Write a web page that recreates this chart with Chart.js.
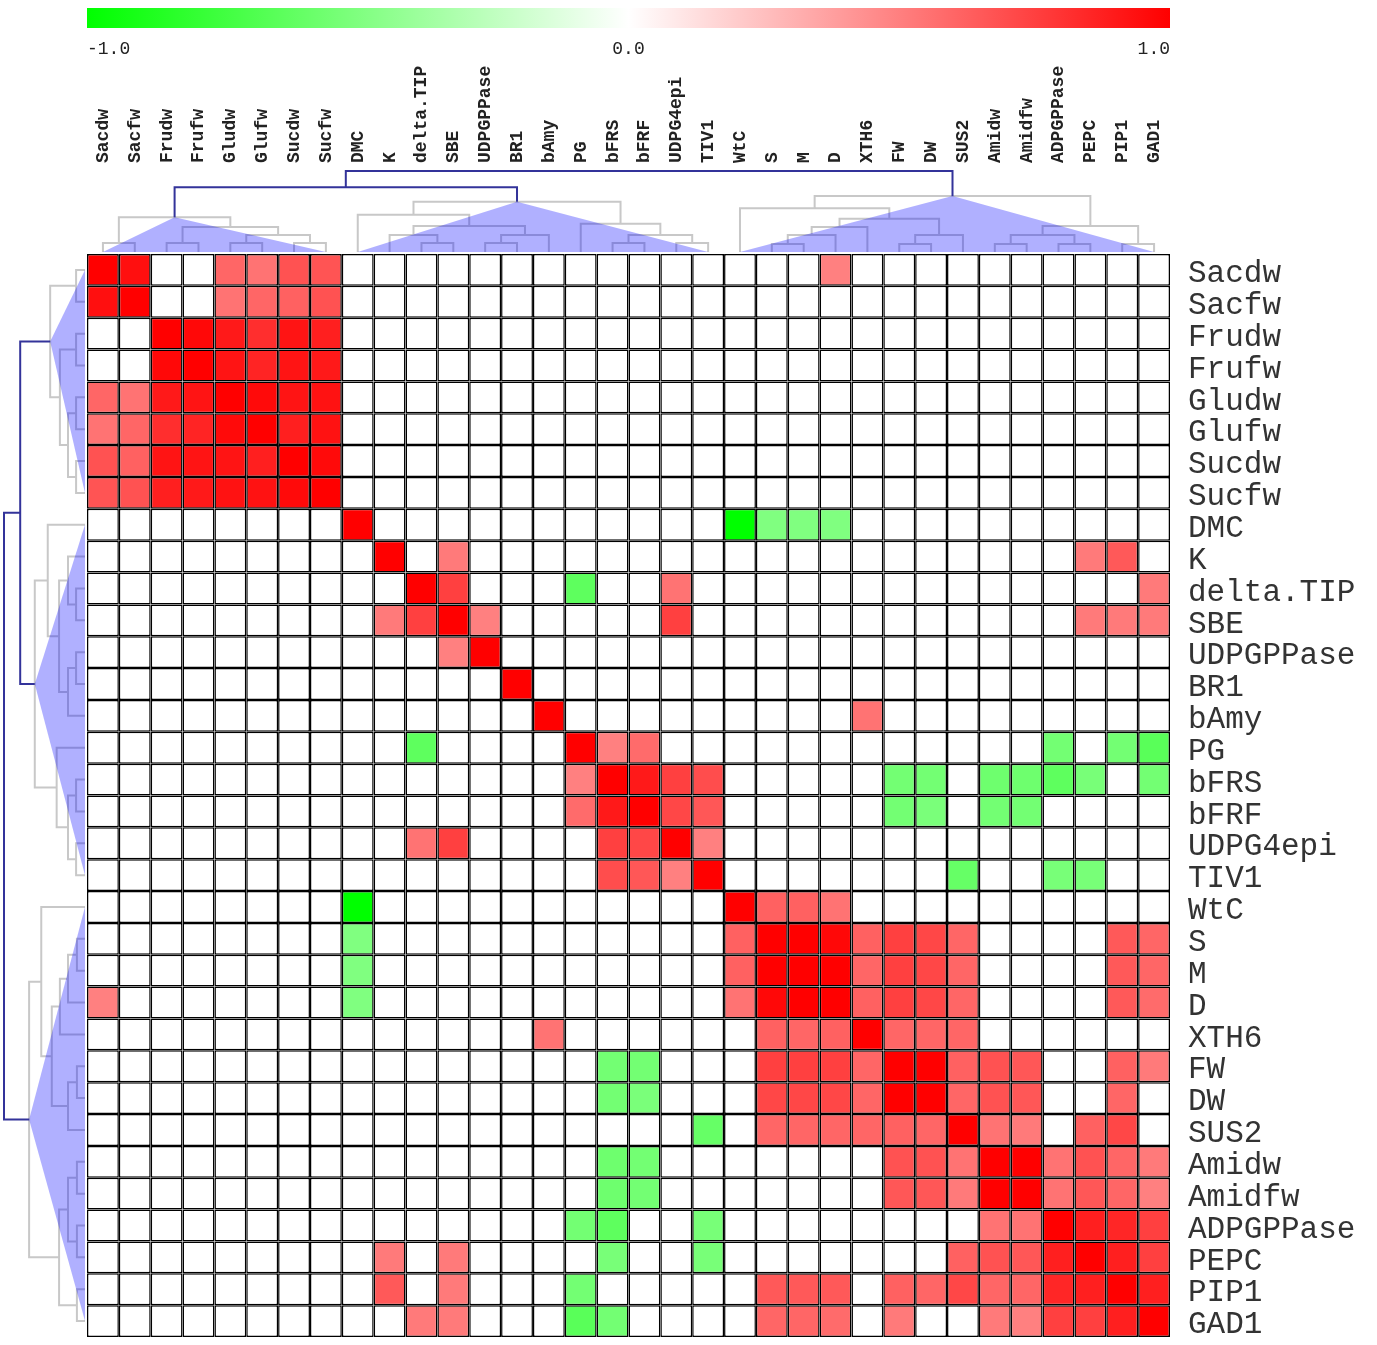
<!DOCTYPE html>
<html>
<head>
<meta charset="utf-8">
<script src="https://cdn.jsdelivr.net/npm/chart.js@4.4.1/dist/chart.umd.min.js"></script>
<style>
  html, body { margin: 0; padding: 0; background: #fff; }
  #wrap { width: 1377px; height: 1345px; }
</style>
</head>
<body>
<div id="wrap"><canvas id="heat" width="1377" height="1345"></canvas></div>
<script>
const variables = ['Sacdw', 'Sacfw', 'Frudw', 'Frufw', 'Gludw', 'Glufw', 'Sucdw', 'Sucfw',
    'DMC', 'K', 'delta.TIP', 'SBE', 'UDPGPPase', 'BR1', 'bAmy', 'PG', 'bFRS', 'bFRF', 'UDPG4epi', 'TIV1',
    'WtC', 'S', 'M', 'D', 'XTH6', 'FW', 'DW', 'SUS2', 'Amidw', 'Amidfw', 'ADPGPPase', 'PEPC', 'PIP1', 'GAD1'];

// correlation matrix, rows/cols in the order above (blank cells = 0)
const corr = [
    [1, .94, 0, 0, .6, .55, .68, .67,   0, 0, 0, 0, 0, 0, 0, 0, 0, 0, 0, 0,   0, 0, 0, .5, 0, 0, 0, 0, 0, 0, 0, 0, 0, 0],
    [.94, 1, 0, 0, .55, .6, .62, .68,   0, 0, 0, 0, 0, 0, 0, 0, 0, 0, 0, 0,   0, 0, 0, 0, 0, 0, 0, 0, 0, 0, 0, 0, 0, 0],
    [0, 0, 1, .97, .9, .82, .92, .88,   0, 0, 0, 0, 0, 0, 0, 0, 0, 0, 0, 0,   0, 0, 0, 0, 0, 0, 0, 0, 0, 0, 0, 0, 0, 0],
    [0, 0, .97, 1, .92, .86, .92, .9,   0, 0, 0, 0, 0, 0, 0, 0, 0, 0, 0, 0,   0, 0, 0, 0, 0, 0, 0, 0, 0, 0, 0, 0, 0, 0],
    [.6, .55, .9, .92, 1, .96, .92, .93,   0, 0, 0, 0, 0, 0, 0, 0, 0, 0, 0, 0,   0, 0, 0, 0, 0, 0, 0, 0, 0, 0, 0, 0, 0, 0],
    [.55, .6, .82, .86, .96, 1, .88, .93,   0, 0, 0, 0, 0, 0, 0, 0, 0, 0, 0, 0,   0, 0, 0, 0, 0, 0, 0, 0, 0, 0, 0, 0, 0, 0],
    [.68, .62, .92, .92, .92, .88, 1, .96,   0, 0, 0, 0, 0, 0, 0, 0, 0, 0, 0, 0,   0, 0, 0, 0, 0, 0, 0, 0, 0, 0, 0, 0, 0, 0],
    [.67, .68, .88, .9, .93, .93, .96, 1,   0, 0, 0, 0, 0, 0, 0, 0, 0, 0, 0, 0,   0, 0, 0, 0, 0, 0, 0, 0, 0, 0, 0, 0, 0, 0],
    [0, 0, 0, 0, 0, 0, 0, 0,   1, 0, 0, 0, 0, 0, 0, 0, 0, 0, 0, 0,   -1, -.5, -.5, -.5, 0, 0, 0, 0, 0, 0, 0, 0, 0, 0],
    [0, 0, 0, 0, 0, 0, 0, 0,   0, 1, 0, .52, 0, 0, 0, 0, 0, 0, 0, 0,   0, 0, 0, 0, 0, 0, 0, 0, 0, 0, 0, .52, .65, 0],
    [0, 0, 0, 0, 0, 0, 0, 0,   0, 0, 1, .75, 0, 0, 0, -.63, 0, 0, .55, 0,   0, 0, 0, 0, 0, 0, 0, 0, 0, 0, 0, 0, 0, .52],
    [0, 0, 0, 0, 0, 0, 0, 0,   0, .52, .75, 1, .5, 0, 0, 0, 0, 0, .75, 0,   0, 0, 0, 0, 0, 0, 0, 0, 0, 0, 0, .52, .52, .52],
    [0, 0, 0, 0, 0, 0, 0, 0,   0, 0, 0, .5, 1, 0, 0, 0, 0, 0, 0, 0,   0, 0, 0, 0, 0, 0, 0, 0, 0, 0, 0, 0, 0, 0],
    [0, 0, 0, 0, 0, 0, 0, 0,   0, 0, 0, 0, 0, 1, 0, 0, 0, 0, 0, 0,   0, 0, 0, 0, 0, 0, 0, 0, 0, 0, 0, 0, 0, 0],
    [0, 0, 0, 0, 0, 0, 0, 0,   0, 0, 0, 0, 0, 0, 1, 0, 0, 0, 0, 0,   0, 0, 0, 0, .55, 0, 0, 0, 0, 0, 0, 0, 0, 0],
    [0, 0, 0, 0, 0, 0, 0, 0,   0, 0, -.63, 0, 0, 0, 0, 1, .5, .58, 0, 0,   0, 0, 0, 0, 0, 0, 0, 0, 0, 0, -.55, 0, -.55, -.65],
    [0, 0, 0, 0, 0, 0, 0, 0,   0, 0, 0, 0, 0, 0, 0, .5, 1, .9, .75, .7,   0, 0, 0, 0, 0, -.55, -.55, 0, -.57, -.57, -.63, -.53, 0, -.55],
    [0, 0, 0, 0, 0, 0, 0, 0,   0, 0, 0, 0, 0, 0, 0, .58, .9, 1, .72, .66,   0, 0, 0, 0, 0, -.55, -.52, 0, -.55, -.55, 0, 0, 0, 0],
    [0, 0, 0, 0, 0, 0, 0, 0,   0, 0, .55, .75, 0, 0, 0, 0, .75, .72, 1, .5,   0, 0, 0, 0, 0, 0, 0, 0, 0, 0, 0, 0, 0, 0],
    [0, 0, 0, 0, 0, 0, 0, 0,   0, 0, 0, 0, 0, 0, 0, 0, .7, .66, .5, 1,   0, 0, 0, 0, 0, 0, 0, -.6, 0, 0, -.53, -.53, 0, 0],
    [0, 0, 0, 0, 0, 0, 0, 0,   -1, 0, 0, 0, 0, 0, 0, 0, 0, 0, 0, 0,   1, .62, .62, .55, 0, 0, 0, 0, 0, 0, 0, 0, 0, 0],
    [0, 0, 0, 0, 0, 0, 0, 0,   -.5, 0, 0, 0, 0, 0, 0, 0, 0, 0, 0, 0,   .62, 1, 1, .97, .62, .75, .72, .6, 0, 0, 0, 0, .65, .6],
    [0, 0, 0, 0, 0, 0, 0, 0,   -.5, 0, 0, 0, 0, 0, 0, 0, 0, 0, 0, 0,   .62, 1, 1, 1, .6, .75, .72, .6, 0, 0, 0, 0, .65, .6],
    [.5, 0, 0, 0, 0, 0, 0, 0,   -.5, 0, 0, 0, 0, 0, 0, 0, 0, 0, 0, 0,   .55, .97, 1, 1, .62, .75, .72, .6, 0, 0, 0, 0, .65, .58],
    [0, 0, 0, 0, 0, 0, 0, 0,   0, 0, 0, 0, 0, 0, .55, 0, 0, 0, 0, 0,   0, .62, .6, .62, 1, .6, .6, .6, 0, 0, 0, 0, 0, 0],
    [0, 0, 0, 0, 0, 0, 0, 0,   0, 0, 0, 0, 0, 0, 0, 0, -.55, -.55, 0, 0,   0, .75, .75, .75, .6, 1, 1, .62, .68, .66, 0, 0, .62, .52],
    [0, 0, 0, 0, 0, 0, 0, 0,   0, 0, 0, 0, 0, 0, 0, 0, -.55, -.52, 0, 0,   0, .72, .72, .72, .6, 1, 1, .6, .68, .66, 0, 0, .6, 0],
    [0, 0, 0, 0, 0, 0, 0, 0,   0, 0, 0, 0, 0, 0, 0, 0, 0, 0, 0, -.6,   0, .6, .6, .6, .6, .62, .6, 1, .55, .52, 0, .62, .72, 0],
    [0, 0, 0, 0, 0, 0, 0, 0,   0, 0, 0, 0, 0, 0, 0, 0, -.57, -.55, 0, 0,   0, 0, 0, 0, 0, .68, .68, .55, 1, 1, .55, .68, .6, .52],
    [0, 0, 0, 0, 0, 0, 0, 0,   0, 0, 0, 0, 0, 0, 0, 0, -.57, -.55, 0, 0,   0, 0, 0, 0, 0, .66, .66, .52, 1, 1, .55, .66, .6, .5],
    [0, 0, 0, 0, 0, 0, 0, 0,   0, 0, 0, 0, 0, 0, 0, -.55, -.63, 0, 0, -.53,   0, 0, 0, 0, 0, 0, 0, 0, .55, .55, 1, .88, .85, .75],
    [0, 0, 0, 0, 0, 0, 0, 0,   0, .52, 0, .52, 0, 0, 0, 0, -.53, 0, 0, -.53,   0, 0, 0, 0, 0, 0, 0, .62, .68, .66, .88, 1, .88, .75],
    [0, 0, 0, 0, 0, 0, 0, 0,   0, .65, 0, .52, 0, 0, 0, -.55, 0, 0, 0, 0,   0, .65, .65, .65, 0, .62, .6, .72, .6, .6, .85, .88, 1, .88],
    [0, 0, 0, 0, 0, 0, 0, 0,   0, 0, .52, .52, 0, 0, 0, -.65, -.55, 0, 0, 0,   0, .6, .6, .58, 0, .52, 0, 0, .52, .5, .75, .75, .88, 1],
];

// hclust-style merge list: negative = leaf (1-based), positive = earlier merge (1-based)
const merges = [
    [-1, -2], [-3, -4], [-5, -6], [-7, -8], [3, 4], [2, 5], [1, 6],
    [-11, -12], [-10, 8], [-13, -14], [10, -15], [9, 11], [-9, 12],
    [-17, -18], [-19, -20], [14, 15], [-16, 16], [13, 17],
    [-22, -23], [19, -24], [20, -25], [-26, -27], [22, -28], [21, 23], [-21, 24],
    [-29, -30], [-31, -32], [26, 27], [-33, -34], [28, 29], [25, 30],
    [7, 18], [32, 31],
];
// merge heights relative to the root
const mergeHeights = [
    .11, .11, .11, .11, .21, .31, .43,
    .11, .21, .11, .21, .32, .46,
    .11, .11, .21, .35, .62,
    .10, .21, .31, .10, .21, .41, .54,
    .10, .10, .21, .10, .32, .69,
    .80, 1,
];
const nClusters = 3;
const colorbarTicks = [-1, 0, 1];

const DEPTH = 81;
const FONT = "'Liberation Mono', 'DejaVu Sans Mono', monospace";
const GRAY = '#c8c8c8';
const BLUE = '#33339a';
const TRI = 'rgba(0, 0, 255, 0.31)';

function cellColor(v) {
    if (v === 0) return '#ffffff';
    const k = Math.round(255 * (1 - Math.abs(v)));
    return v > 0 ? `rgb(255,${k},${k})` : `rgb(${k},255,${k})`;
}

function buildTree() {
    const nodes = [];
    const ref = (id) => id < 0
        ? { p: -id - 1, h: 0, lo: -id - 1, hi: -id - 1 }
        : nodes[id - 1];
    merges.forEach(([a, b], i) => {
        const A = ref(a), B = ref(b);
        nodes.push({ a: A, b: B, p: (A.p + B.p) / 2, h: mergeHeights[i],
            lo: Math.min(A.lo, B.lo), hi: Math.max(A.hi, B.hi) });
    });
    return nodes;
}

function drawTree(ctx, nodes, toXY) {
    const cut = nodes.length - (nClusters - 1);
    const link = (n) => {
        ctx.beginPath();
        ctx.moveTo(...toXY(n.a.p, n.a.h));
        ctx.lineTo(...toXY(n.a.p, n.h));
        ctx.lineTo(...toXY(n.b.p, n.h));
        ctx.lineTo(...toXY(n.b.p, n.b.h));
        ctx.stroke();
    };
    ctx.lineWidth = 2;
    ctx.strokeStyle = GRAY;
    nodes.slice(0, cut).forEach(link);

    // clusters below the cut get a triangle
    const top = nodes.slice(cut);
    const clusters = [];
    top.forEach(n => [n.a, n.b].forEach(c => { if (!top.includes(c)) clusters.push(c); }));
    ctx.fillStyle = TRI;
    clusters.forEach(c => {
        ctx.beginPath();
        ctx.moveTo(...toXY(c.p, c.h));
        ctx.lineTo(...toXY(c.lo, 0));
        ctx.lineTo(...toXY(c.hi, 0));
        ctx.closePath();
        ctx.fill();
    });

    ctx.strokeStyle = BLUE;
    top.forEach(link);
}

const extras = {
    id: 'extras',
    afterDraw(chart) {
        const { ctx, chartArea: area, scales: { x, y } } = chart;
        const nodes = buildTree();
        ctx.save();
        drawTree(ctx, nodes, (p, h) => [x.getPixelForValue(p), area.top - 2 - h * DEPTH]);
        drawTree(ctx, nodes, (p, h) => [area.left - 2 - h * DEPTH, y.getPixelForValue(p + 0.5)]);

        // colour key
        const w = area.right - area.left;
        const grad = ctx.createLinearGradient(area.left, 0, area.right, 0);
        colorbarTicks.forEach(v => grad.addColorStop((v + 1) / 2, cellColor(v)));
        ctx.fillStyle = grad;
        ctx.fillRect(area.left, 8, w, 20);
        ctx.fillStyle = '#222';
        ctx.font = `18px ${FONT}`;
        ctx.textBaseline = 'middle';
        colorbarTicks.forEach((v, i) => {
            ctx.textAlign = i === 0 ? 'left' : i === colorbarTicks.length - 1 ? 'right' : 'center';
            ctx.fillText(v.toFixed(1), area.left + (v + 1) / 2 * w, 49);
        });
        ctx.restore();
    },
};

new Chart(document.getElementById('heat'), {
    type: 'bar',
    data: {
        labels: variables,
        datasets: corr.map((row, r) => ({
            label: variables[r],
            data: row.map(() => [r, r + 1]),
            backgroundColor: row.map(cellColor),
            borderColor: '#000',
            borderWidth: 1.5,
            borderSkipped: false,
            inflateAmount: 0,
            grouped: false,
            barPercentage: 1,
            categoryPercentage: 1,
        })),
    },
    options: {
        responsive: false,
        animation: false,
        layout: { padding: { left: 87, right: 0, top: 0, bottom: 8 } },
        plugins: { legend: { display: false }, tooltip: { enabled: false } },
        scales: {
            x: {
                position: 'top',
                grid: { display: false, drawTicks: false },
                border: { display: false },
                afterFit: (scale) => {
                    scale.height = 254;
                    scale.paddingLeft = 0;
                    scale.paddingRight = 0;
                },
                ticks: {
                    autoSkip: false,
                    minRotation: 90,
                    maxRotation: 90,
                    padding: 91,
                    labelOffset: 22,
                    color: '#222',
                    font: { family: FONT, size: 18, weight: 'bold' },
                },
            },
            y: {
                position: 'right',
                min: 0,
                max: 34,
                reverse: true,
                grid: { display: false, drawTicks: false },
                border: { display: false },
                afterFit: (scale) => {
                    scale.width = 207;
                    scale.paddingTop = 0;
                    scale.paddingBottom = 0;
                },
                afterBuildTicks: (scale) => {
                    scale.ticks = variables.map((_, i) => ({ value: i + 0.5 }));
                },
                ticks: {
                    autoSkip: false,
                    padding: 18,
                    labelOffset: 4,
                    color: '#333',
                    font: { family: FONT, size: 31 },
                    callback: (value, index) => variables[index],
                },
            },
        },
    },
    plugins: [extras],
});
</script>
</body>
</html>
